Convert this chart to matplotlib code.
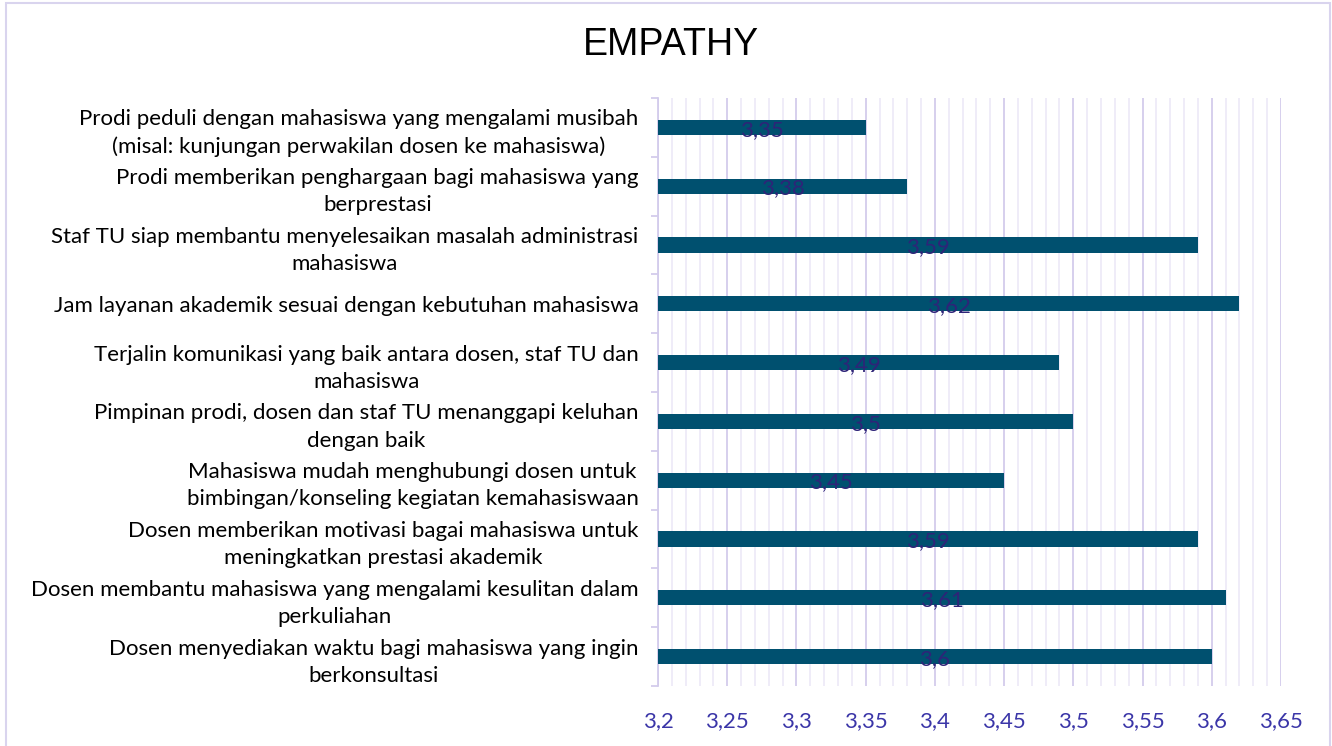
import matplotlib.pyplot as plt
import matplotlib.patches as mpatches
from matplotlib.ticker import MultipleLocator

plt.rcParams['font.family'] = ['Lato', 'DejaVu Sans']

# items listed top to bottom as in the chart
labels = [
    "Prodi peduli dengan mahasiswa yang mengalami musibah\n(misal: kunjungan perwakilan dosen ke mahasiswa)",
    "Prodi memberikan penghargaan bagi mahasiswa yang\nberprestasi",
    "Staf TU siap membantu menyelesaikan masalah administrasi\nmahasiswa",
    "Jam layanan akademik sesuai dengan kebutuhan mahasiswa",
    "Terjalin komunikasi yang baik antara dosen, staf TU dan\nmahasiswa",
    "Pimpinan prodi, dosen dan staf TU menanggapi keluhan\ndengan baik",
    "Mahasiswa mudah menghubungi dosen untuk\nbimbingan/konseling kegiatan kemahasiswaan",
    "Dosen memberikan motivasi bagai mahasiswa untuk\nmeningkatkan prestasi akademik",
    "Dosen membantu mahasiswa yang mengalami kesulitan dalam\nperkuliahan",
    "Dosen menyediakan waktu bagi mahasiswa yang ingin\nberkonsultasi",
]
values = [3.35, 3.38, 3.59, 3.62, 3.49, 3.5, 3.45, 3.59, 3.61, 3.6]
xticks = [3.2, 3.25, 3.3, 3.35, 3.4, 3.45, 3.5, 3.55, 3.6, 3.65]

bar_color = "#00506F"
label_color = "#2E2478"
tick_color = "#3B36A8"
grid_major = "#D3CCEC"
grid_minor = "#EEEBF8"

fig = plt.figure(figsize=(13.32, 7.46), dpi=100)
ax = fig.add_axes([0.494, 0.0804, 0.4677, 0.7882])

n = len(values)
ypos = list(range(n - 1, -1, -1))
base = 3.2
ax.barh(ypos, [v - base for v in values], left=base, height=0.26,
        color=bar_color, zorder=3)
for y, v in zip(ypos, values):
    ax.text(base + (v - base) / 2, y - 0.04, f"{v:g}".replace(".", ","),
            ha="center", va="center", fontsize=16, color=label_color, zorder=4)

ax.set_xlim(3.2, 3.65)
ax.set_ylim(-0.5, n - 0.5)
ax.set_xticks(xticks)
ax.set_xticklabels([f"{t:g}".replace(".", ",") for t in xticks],
                   color=tick_color, fontsize=16)
ax.xaxis.set_minor_locator(MultipleLocator(0.01))
ax.grid(axis="x", which="major", color=grid_major, linewidth=1.3, zorder=0)
ax.grid(axis="x", which="minor", color=grid_minor, linewidth=1.3, zorder=0)
ax.tick_params(axis="x", which="both", length=0, pad=18)

ax.set_yticks(ypos)
ax.set_yticklabels(labels, fontsize=16, linespacing=1.45, ha="right",
                   multialignment="center")
ax.set_yticks([i - 0.5 for i in range(n + 1)], minor=True)
ax.tick_params(axis="y", which="major", length=0, pad=14)
ax.tick_params(axis="y", which="minor", length=5, color=grid_major, width=1.3)

for side in ["top", "right", "bottom"]:
    ax.spines[side].set_visible(False)
ax.spines["left"].set_color(grid_major)
ax.spines["left"].set_linewidth(1.3)

fig.text(0.504, 0.94, "EMPATHY", ha="center", va="center", fontsize=27,
         family=["Liberation Sans", "DejaVu Sans"])

border = mpatches.Rectangle((6 / 1332, -0.05), 1324 / 1332, 1 - 3 / 746 + 0.05,
                            transform=fig.transFigure, fill=False,
                            edgecolor="#D9D4EE", linewidth=1.5)
fig.patches.append(border)

fig.savefig("out.png", dpi=100)
